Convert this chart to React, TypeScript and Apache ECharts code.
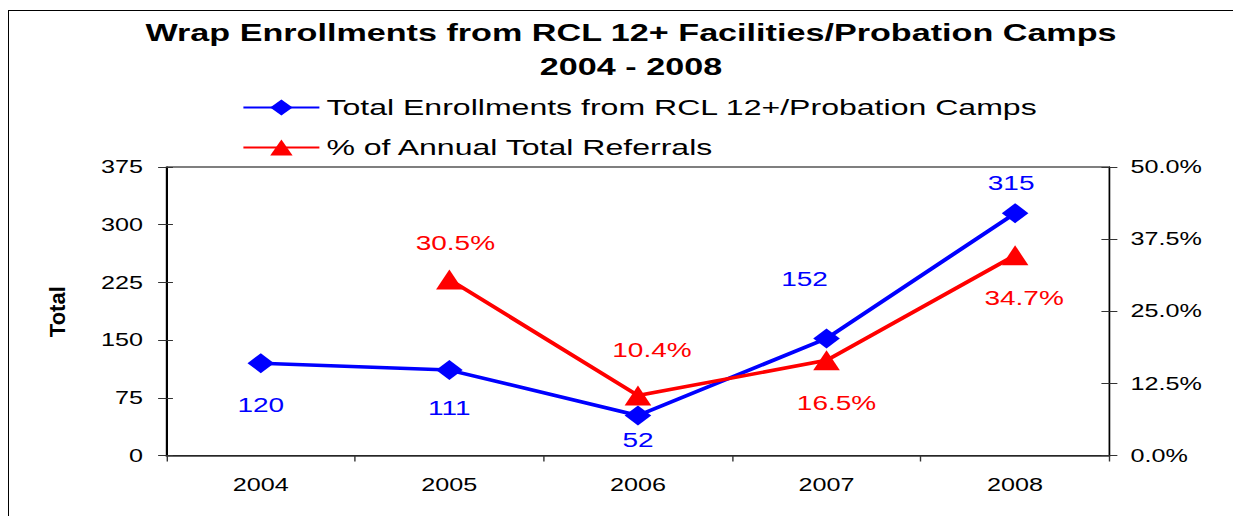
import React, { useEffect, useRef } from "react";
import * as echarts from "echarts";

// ---- data ----
const years = ["2004", "2005", "2006", "2007", "2008"];
const totalEnrollments = [120, 111, 52, 152, 315];
const pctAnnualReferrals: (number | null)[] = [null, 30.5, 10.4, 16.5, 34.7];
const leftTicks = [0, 75, 150, 225, 300, 375];
const rightTicks = [0, 12.5, 25, 37.5, 50];

const titleLine1 = "Wrap Enrollments from RCL 12+ Facilities/Probation Camps";
const titleLine2 = "2004 - 2008";
const seriesNames = [
  "Total Enrollments from RCL 12+/Probation Camps",
  "% of Annual Total Referrals",
];
const yAxisName = "Total";

// label placement (page px, relative to the point)
const blueLabelOffsets = [
  [0, 41.5],
  [0, 38],
  [0, 25],
  [-22, -60],
  [-4, -30],
];
const redLabelOffsets = [
  [0, 0],
  [6, -36.5],
  [14, -45],
  [10, 42.7],
  [9, 42.7],
];

// ---- layout ----
const W = 1233;
const H = 516;
const S = 1.4; // horizontal stretch of the reference
const CW = W / S;
const FONT = '"Liberation Sans", Arial, Helvetica, sans-serif';
const BLUE = "#0000FF";
const RED = "#FF0000";

export default function App() {
  const ref = useRef<HTMLDivElement>(null);

  useEffect(() => {
    if (!ref.current) return;
    const chart = echarts.init(ref.current, undefined, { renderer: "svg" });

    const lMin = leftTicks[0];
    const lMax = leftTicks[leftTicks.length - 1];
    const lInt = leftTicks[1] - leftTicks[0];
    const rMin = rightTicks[0];
    const rMax = rightTicks[rightTicks.length - 1];
    const rInt = rightTicks[1] - rightTicks[0];

    const baseY = (pos: "left" | "right", min: number, max: number, interval: number) => ({
      type: "value" as const,
      position: pos,
      min,
      max,
      interval,
      splitLine: { show: false },
    });

    const option: any = {
      animation: false,
      backgroundColor: "transparent",
      title: [
        {
          text: titleLine1,
          left: 631 / S,
          top: 20.8,
          textAlign: "center",
          padding: 0,
          textStyle: { fontSize: 24.4, fontWeight: "bold", fontFamily: FONT, color: "#000" },
        },
        {
          text: titleLine2,
          left: 631 / S,
          top: 54.8,
          textAlign: "center",
          padding: 0,
          textStyle: { fontSize: 24.4, fontWeight: "bold", fontFamily: FONT, color: "#000" },
        },
      ],
      legend: {
        orient: "vertical",
        left: 242 / S,
        top: 96,
        padding: 0,
        itemWidth: 76 / S,
        itemHeight: 20,
        itemGap: 17,
        data: seriesNames,
        textStyle: { fontSize: 22.9, fontFamily: FONT, color: "#000" },
      },
      grid: {
        left: 166.5 / S,
        right: CW - 1109 / S,
        top: 167,
        bottom: H - 455.5,
        show: true,
        borderColor: "#000",
        borderWidth: 1,
        containLabel: false,
      },
      xAxis: {
        type: "category",
        data: years,
        boundaryGap: true,
        axisLine: { lineStyle: { color: "#333", width: 1.5 } },
        axisTick: { show: true, length: 6, lineStyle: { color: "#333" } },
        axisLabel: { fontSize: 18, fontFamily: FONT, color: "#000", margin: 20 },
      },
      yAxis: [
        {
          ...baseY("left", lMin, lMax, lInt),
          axisLine: { show: true, lineStyle: { color: "#000", width: 1 } },
          axisTick: { show: true, inside: false, length: 6, lineStyle: { color: "#333" } },
          axisLabel: { fontSize: 18, fontFamily: FONT, color: "#000", margin: 16.8 },
        },
        {
          ...baseY("right", rMin, rMax, rInt),
          axisLine: { show: true, lineStyle: { color: "#000", width: 1 } },
          axisTick: { show: true, inside: false, length: 5.7, lineStyle: { color: "#333" } },
          axisLabel: {
            fontSize: 18,
            fontFamily: FONT,
            color: "#000",
            margin: 15,
            formatter: (v: number) => v.toFixed(1) + "%",
          },
        },
        {
          ...baseY("left", lMin, lMax, lInt),
          axisLine: { show: false },
          axisTick: { show: true, inside: true, length: 4.6, lineStyle: { color: "#333" } },
          axisLabel: { show: false },
        },
        {
          ...baseY("right", rMin, rMax, rInt),
          axisLine: { show: false },
          axisTick: { show: true, inside: true, length: 5.7, lineStyle: { color: "#333" } },
          axisLabel: { show: false },
        },
      ],
      graphic: [
        {
          type: "text",
          x: 57.5 / S,
          y: 311.7,
          rotation: Math.PI / 2,
          scaleY: 0.7,
          style: {
            text: yAxisName,
            font: `bold 22px ${FONT}`,
            fill: "#000",
            align: "center",
            verticalAlign: "middle",
            textAlign: "center",
            textVerticalAlign: "middle",
          },
        },
      ],
      series: [
        {
          name: seriesNames[0],
          type: "line",
          yAxisIndex: 0,
          symbol: "diamond",
          symbolSize: [19, 20],
          lineStyle: { color: BLUE, width: 3.5 },
          itemStyle: { color: BLUE },
          emphasis: { disabled: true },
          label: {
            show: true,
            position: "inside",
            color: BLUE,
            fontSize: 20,
            fontFamily: FONT,
          },
          data: totalEnrollments.map((v, i) => ({
            value: v,
            label: { offset: [blueLabelOffsets[i][0] / S, blueLabelOffsets[i][1]] },
          })),
        },
        {
          name: seriesNames[1],
          type: "line",
          yAxisIndex: 1,
          symbol: "triangle",
          symbolSize: [19, 20],
          lineStyle: { color: RED, width: 3.5 },
          itemStyle: { color: RED },
          emphasis: { disabled: true },
          label: {
            show: true,
            position: "inside",
            color: RED,
            fontSize: 20,
            fontFamily: FONT,
            formatter: (p: any) =>
              p.value == null ? "" : Number(p.value).toFixed(1) + "%",
          },
          data: pctAnnualReferrals.map((v, i) => ({
            value: v,
            label: { offset: [redLabelOffsets[i][0] / S, redLabelOffsets[i][1]] },
          })),
        },
      ],
    };

    chart.setOption(option);
    return () => chart.dispose();
  }, []);

  return (
    <div
      style={{
        position: "fixed",
        left: 0,
        top: 0,
        width: W,
        height: H,
        overflow: "hidden",
        background: "#fff",
      }}
    >
      <div
        style={{
          position: "absolute",
          left: 8,
          top: 10,
          width: 1400,
          height: 700,
          border: "1px solid #000",
        }}
      />
      <div
        ref={ref}
        style={{
          position: "absolute",
          left: 0,
          top: 0,
          width: CW,
          height: H,
          transform: `scaleX(${S})`,
          transformOrigin: "0 0",
        }}
      />
    </div>
  );
}
